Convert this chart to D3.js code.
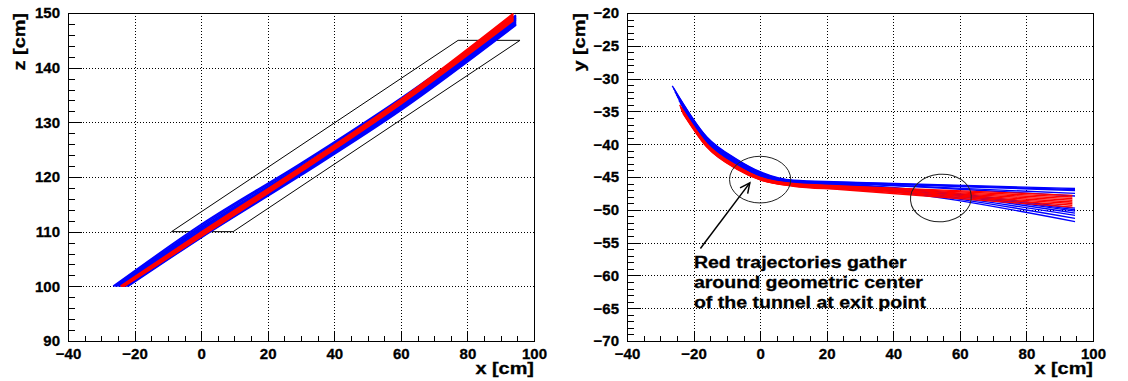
<!DOCTYPE html>
<html><head><meta charset="utf-8">
<script src="https://cdn.jsdelivr.net/npm/d3@7"></script>
<style>
html,body{margin:0;padding:0;background:#fff;}
svg{display:block;}
text{font-family:"Liberation Sans",Arial,Helvetica,sans-serif;font-weight:bold;}
</style></head><body>
<svg id="chart" width="1128" height="381"></svg>
<script>
// ---- axis ticks ----
const xMajor = [-40, -20, 0, 20, 40, 60, 80, 100];
const zMajor = [90, 100, 110, 120, 130, 140, 150];
const yMajor = [-70, -65, -60, -55, -50, -45, -40, -35, -30, -25, -20];
const xMinorStep = 5, zMinorStep = 2, yMinorStep = 1;

// ---- tunnel outline in the x-z plane ----
const tunnelX = [-8.9, 9.6, 95.8, 77.2];
const tunnelZ = [110, 110, 145, 145];

// ---- trajectories: start on the z = 100 plane, end near x = 94 ----
const zStart = 100;
const blueStartX = [-26.4, -26.0, -25.6, -25.2, -24.8, -24.4, -24.0, -23.6, -23.2, -22.8, -22.4, -22.0];
const redStartX  = [-24.2, -24.0, -23.9, -23.8, -23.6, -23.5, -23.3, -23.2];
const blueEndX = 94.6;
const redEndX  = 93.8;

// z at x = 0, 30, 60 and at the end point
const zStationX = [0, 30, 60];
const blueZ = [
  [111.3, 122.5, 134.4, 149.6],
  [111.0, 122.3, 134.2, 149.45],
  [110.7, 122.0, 134.0, 149.3],
  [110.5, 121.8, 133.8, 149.15],
  [110.2, 121.6, 133.6, 149.0],
  [110.0, 121.4, 133.4, 148.85],
  [109.8, 121.3, 133.2, 148.7],
  [109.6, 121.1, 133.0, 148.5],
  [109.4, 120.9, 132.8, 148.3],
  [109.2, 120.7, 132.6, 148.1],
  [109.0, 120.5, 132.4, 147.95],
  [108.9, 120.3, 132.2, 147.8]
];
const redZ = [
  [109.9, 121.8, 134.2, 149.9],
  [109.8, 121.7, 134.05, 149.7],
  [109.65, 121.55, 133.9, 149.5],
  [109.55, 121.45, 133.8, 149.35],
  [109.45, 121.35, 133.7, 149.15],
  [109.35, 121.25, 133.6, 149.0],
  [109.2, 121.1, 133.45, 148.8],
  [109.1, 121.0, 133.35, 148.6]
];

// y at the start, at x = -16, -7, 0, 10, 24 and at the end point
const yStationX = [-16, -7, 0, 10, 24];
const blueY = [
  [-31.1, -38.9, -42.3, -44.2, -45.5, -45.75, -46.75],
  [-31.5, -39.0, -42.4, -44.3, -45.55, -45.8, -46.9],
  [-32.0, -39.1, -42.5, -44.4, -45.6, -45.85, -47.05],
  [-32.4, -39.2, -42.6, -44.45, -45.65, -45.9, -47.5],
  [-32.8, -39.3, -42.7, -44.55, -45.7, -45.95, -47.9],
  [-33.3, -39.4, -42.8, -44.6, -45.75, -46.05, -49.75],
  [-33.7, -39.5, -42.85, -44.7, -45.8, -46.1, -50.0],
  [-34.3, -39.6, -42.95, -44.8, -45.85, -46.15, -50.2],
  [-34.7, -39.7, -43.05, -44.85, -45.9, -46.2, -50.5],
  [-35.1, -39.8, -43.15, -44.95, -45.95, -46.3, -50.85],
  [-35.6, -39.9, -43.2, -45.0, -46.0, -46.35, -51.3],
  [-36.0, -40.0, -43.3, -45.1, -46.1, -46.45, -51.8]
];
const redY = [
  [-34.0, -39.95, -43.3, -45.05, -46.0, -46.35, -47.8],
  [-34.25, -40.0, -43.35, -45.1, -46.05, -46.4, -48.05],
  [-34.4, -40.1, -43.45, -45.15, -46.1, -46.5, -48.3],
  [-34.55, -40.15, -43.5, -45.2, -46.15, -46.55, -48.55],
  [-34.75, -40.25, -43.6, -45.3, -46.2, -46.65, -48.8],
  [-34.9, -40.3, -43.65, -45.35, -46.3, -46.7, -49.05],
  [-35.1, -40.4, -43.75, -45.4, -46.35, -46.8, -49.3],
  [-35.3, -40.45, -43.8, -45.45, -46.4, -46.9, -49.6]
];

// ---- annotation (x-y plane) ----
const ellipseCx = [0, 54.3];
const ellipseCy = [-45.4, -48.2];
const ellipseRx = [9.2, 9.15];
const ellipseRy = [3.56, 3.62];
const ellipseTilt = [0, -5];
const arrowFrom = [-17.95, -55.9];
const arrowTo = [-3.1, -45.9];
const noteAt = [-19.9, -58.93];
const noteLines = ["Red trajectories gather", "around geometric center", "of the tunnel at exit point"];

const BLUE = "#0000ff", RED = "#ff0000";
const FONT = '"Liberation Sans", Arial, Helvetica, sans-serif';

const svg = d3.select("#chart");
svg.append("rect").attr("width", 1128).attr("height", 381).attr("fill", "#fff");

function minorValues(domain, step, majors) {
  const out = [];
  for (let v = domain[0]; v <= domain[1] + 1e-9; v += step) {
    const r = Math.round(v * 1000) / 1000;
    if (!majors.includes(r)) out.push(r);
  }
  return out;
}

function makePanel(o) {
  const xs = d3.scaleLinear().domain([-40, 100]).range([o.L, o.R]);
  const ys = d3.scaleLinear().domain(o.yDomain).range([o.B, o.T]);
  const g = svg.append("g");
  const id = "clip" + o.name;
  svg.append("clipPath").attr("id", id).append("rect")
    .attr("x", o.L).attr("y", o.T).attr("width", o.R - o.L).attr("height", o.B - o.T);

  // dotted grid at major ticks
  const grid = g.append("g").attr("stroke", "#000").attr("stroke-width", 1)
    .attr("stroke-dasharray", "1,2").attr("shape-rendering", "crispEdges");
  grid.selectAll(".gx").data(xMajor).join("line")
    .attr("x1", d => Math.round(xs(d)) + 0.5).attr("x2", d => Math.round(xs(d)) + 0.5)
    .attr("y1", o.T).attr("y2", o.B);
  grid.selectAll(".gy").data(o.yMajor).join("line")
    .attr("y1", d => Math.round(ys(d)) + 0.5).attr("y2", d => Math.round(ys(d)) + 0.5)
    .attr("x1", o.L).attr("x2", o.R);

  const styleAxis = sel => {
    sel.attr("font-family", FONT).attr("font-size", 15).attr("font-weight", "bold");
    sel.select(".domain").remove();
    sel.selectAll("line").attr("stroke", "#000").attr("shape-rendering", "crispEdges");
    sel.selectAll("text").attr("fill", "#000").attr("stroke", "#000").attr("stroke-width", 0.3);
  };

  // x axis (ticks point into the frame)
  g.append("g").attr("transform", `translate(0,${o.B})`)
    .call(d3.axisBottom(xs).tickValues(minorValues([-40, 100], xMinorStep, xMajor))
      .tickSize(-5).tickSizeOuter(0).tickFormat(""))
    .call(styleAxis);
  g.append("g").attr("transform", `translate(0,${o.B})`)
    .call(d3.axisBottom(xs).tickValues(xMajor).tickSize(-10).tickSizeOuter(0).tickPadding(7))
    .call(styleAxis);

  // vertical axis
  g.append("g").attr("transform", `translate(${o.L},0)`)
    .call(d3.axisLeft(ys).tickValues(minorValues(o.yDomain, o.minorStep, o.yMajor))
      .tickSize(-7).tickSizeOuter(0).tickFormat(""))
    .call(styleAxis);
  g.append("g").attr("transform", `translate(${o.L},0)`)
    .call(d3.axisLeft(ys).tickValues(o.yMajor).tickSize(-14).tickSizeOuter(0).tickPadding(8))
    .call(styleAxis);

  // frame
  g.append("rect").attr("x", o.L + 0.5).attr("y", o.T + 0.5)
    .attr("width", o.R - o.L).attr("height", o.B - o.T)
    .attr("fill", "none").attr("stroke", "#000").attr("stroke-width", 1)
    .attr("shape-rendering", "crispEdges");

  // axis titles
  g.append("text").attr("text-anchor", "end").attr("font-size", 17)
    .attr("stroke", "#000").attr("stroke-width", 0.3)
    .attr("transform", `translate(${o.R},374) scale(1.17,1)`).text("x [cm]");
  g.append("text").attr("text-anchor", "end").attr("font-size", 17)
    .attr("stroke", "#000").attr("stroke-width", 0.3)
    .attr("transform", `translate(${o.titleX},${o.T}) rotate(-90) scale(1.17,1)`).text(o.yTitle);

  const plot = g.append("g").attr("clip-path", `url(#${id})`);
  return { xs, ys, g, plot };
}

// ---------- left: z vs x ----------
const left = makePanel({ name: "L", L: 68, R: 534, T: 13, B: 341, yDomain: [90, 150],
  yMajor: zMajor, minorStep: zMinorStep, yTitle: "z [cm]", titleX: 25 });

left.plot.append("path")
  .attr("d", d3.line().x((d, i) => left.xs(tunnelX[i])).y((d, i) => left.ys(tunnelZ[i]))(tunnelX) + "Z")
  .attr("fill", "none").attr("stroke", "#000").attr("stroke-width", 1);

const lineL = d3.line().x(d => left.xs(d[0])).y(d => left.ys(d[1])).curve(d3.curveMonotoneX);
function trackXZ(x0, row, xEnd) {
  return [[x0, zStart], ...zStationX.map((x, k) => [x, row[k]]), [xEnd, row[zStationX.length]]];
}
left.plot.append("g").selectAll("path").data(blueZ).join("path")
  .attr("d", (row, i) => lineL(trackXZ(blueStartX[i], row, blueEndX)))
  .attr("fill", "none").attr("stroke", BLUE).attr("stroke-width", 1.8);
left.plot.append("g").selectAll("path").data(redZ).join("path")
  .attr("d", (row, i) => lineL(trackXZ(redStartX[i], row, redEndX)))
  .attr("fill", "none").attr("stroke", RED).attr("stroke-width", 1.8);

// ---------- right: y vs x ----------
const right = makePanel({ name: "R", L: 627, R: 1093, T: 13, B: 341, yDomain: [-70, -20],
  yMajor: yMajor, minorStep: yMinorStep, yTitle: "y [cm]", titleX: 585 });

const lineR = d3.line().x(d => right.xs(d[0])).y(d => right.ys(d[1])).curve(d3.curveMonotoneX);
function trackXY(x0, row, xEnd) {
  return [[x0, row[0]], ...yStationX.map((x, k) => [x, row[k + 1]]), [xEnd, row[yStationX.length + 1]]];
}
right.plot.append("g").selectAll("path").data(blueY).join("path")
  .attr("d", (row, i) => lineR(trackXY(blueStartX[i], row, blueEndX)))
  .attr("fill", "none").attr("stroke", BLUE).attr("stroke-width", 1.4);
right.plot.append("g").selectAll("path").data(redY).join("path")
  .attr("d", (row, i) => lineR(trackXY(redStartX[i], row, redEndX)))
  .attr("fill", "none").attr("stroke", RED).attr("stroke-width", 1.4);

// ellipses marking the tunnel centre and the exit region
right.plot.append("g").selectAll("ellipse").data(ellipseCx).join("ellipse")
  .attr("cx", 0).attr("cy", 0)
  .attr("rx", (d, i) => right.xs(ellipseRx[i]) - right.xs(0))
  .attr("ry", (d, i) => right.ys(0) - right.ys(ellipseRy[i]))
  .attr("transform", (d, i) => `translate(${right.xs(d)},${right.ys(ellipseCy[i])}) rotate(${ellipseTilt[i]})`)
  .attr("fill", "none").attr("stroke", "#222").attr("stroke-width", 1);

// arrow
const ax0 = right.xs(arrowFrom[0]), ay0 = right.ys(arrowFrom[1]);
const ax1 = right.xs(arrowTo[0]), ay1 = right.ys(arrowTo[1]);
const ang = Math.atan2(ay1 - ay0, ax1 - ax0);
const head = 11, spread = Math.PI / 7;
const arrow = right.g.append("g").attr("stroke", "#000").attr("stroke-width", 1.5).attr("fill", "none");
arrow.append("line").attr("x1", ax0).attr("y1", ay0).attr("x2", ax1).attr("y2", ay1);
arrow.append("path").attr("d",
  `M${ax1 - head * Math.cos(ang - spread)},${ay1 - head * Math.sin(ang - spread)}` +
  `L${ax1},${ay1}` +
  `L${ax1 - head * Math.cos(ang + spread)},${ay1 - head * Math.sin(ang + spread)}`);

// note
const note = right.g.append("g")
  .attr("transform", `translate(${right.xs(noteAt[0])},${right.ys(noteAt[1])}) scale(1.15,1)`);
note.selectAll("text").data(noteLines).join("text")
  .attr("x", 0).attr("y", (d, i) => i * 20).attr("font-size", 17).attr("fill", "#000")
  .attr("stroke", "#000").attr("stroke-width", 0.3).text(d => d);
</script>
</body></html>
